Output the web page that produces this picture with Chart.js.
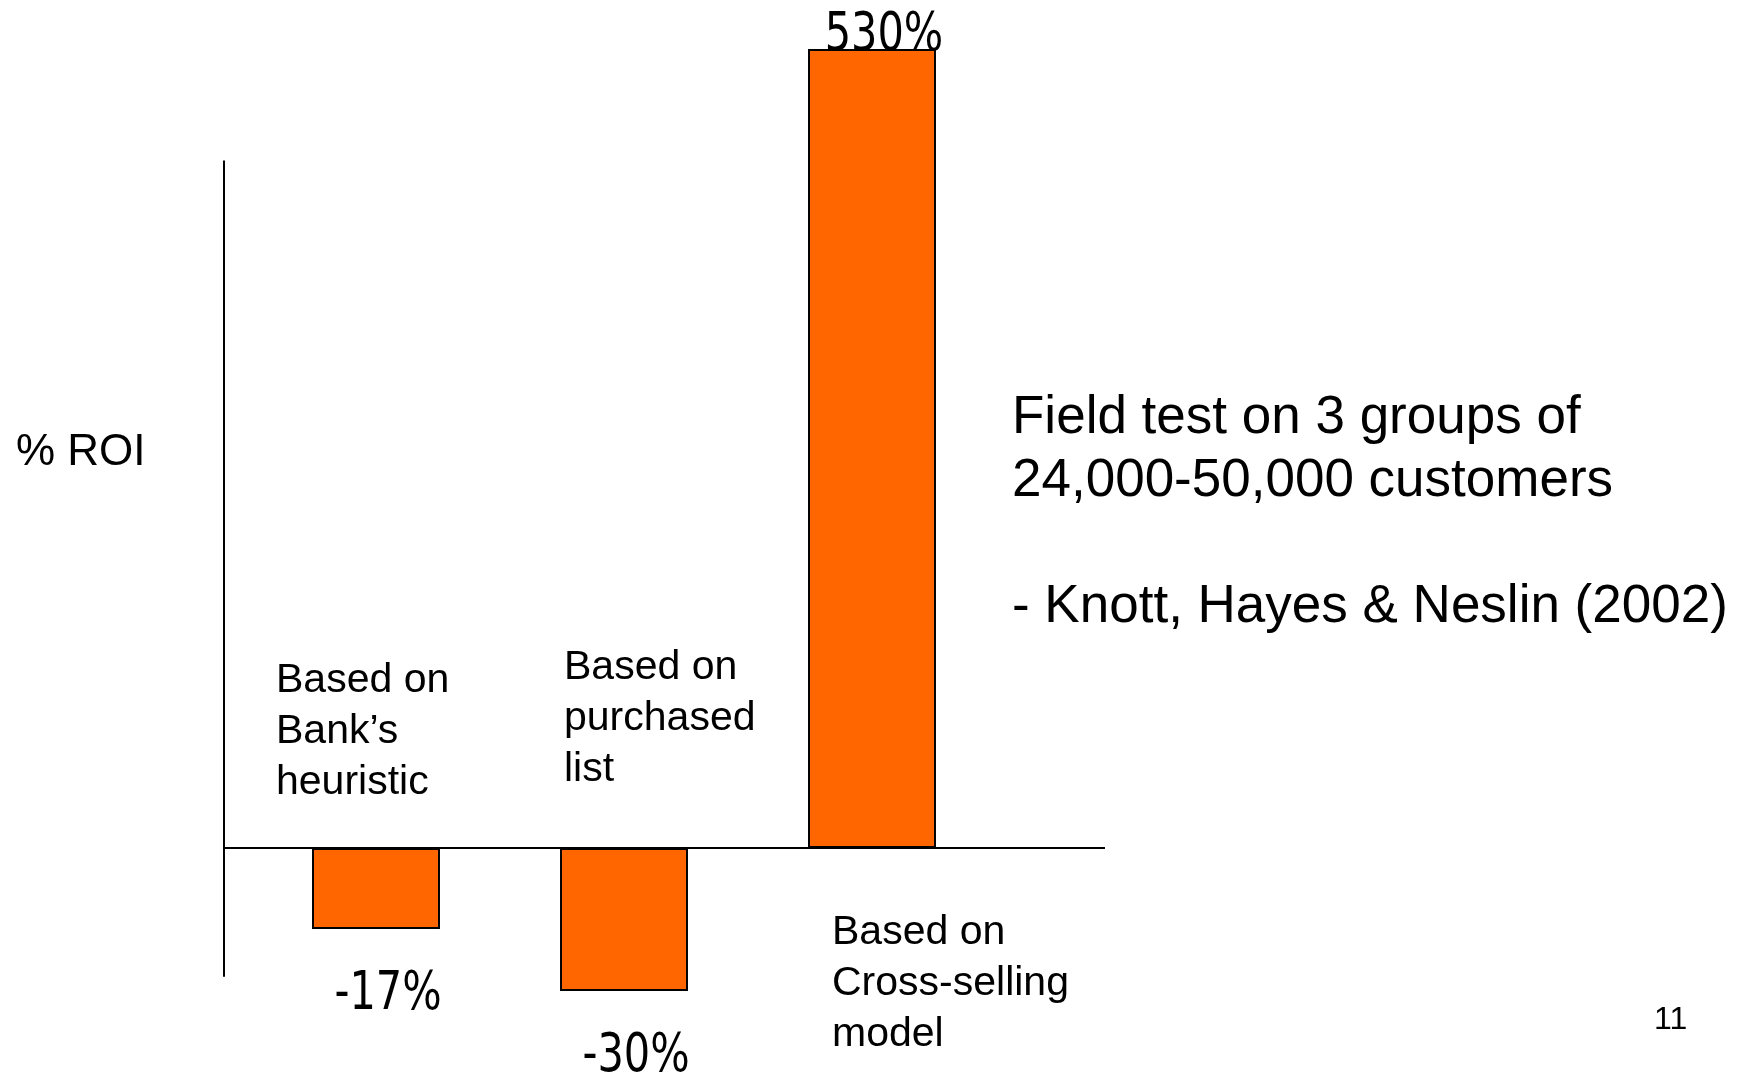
<!DOCTYPE html>
<html>
<head>
<meta charset="utf-8">
<title>% ROI by targeting method</title>
<script src="https://cdn.jsdelivr.net/npm/chart.js@4.4.1/dist/chart.umd.min.js"></script>
<style>
  html, body { margin: 0; padding: 0; background: #fff; }
  #wrap { width: 1750px; height: 1077px; }
</style>
</head>
<body>
<div id="wrap"><canvas id="chart" width="1750" height="1077"></canvas></div>
<script>
// data
const categories = [
  ["Based on", "Bank\u2019s", "heuristic"],
  ["Based on", "purchased", "list"],
  ["Based on", "Cross-selling", "model"]
];
const roiValues = [-17, -30, 530];
const noteLines = ["Field test on 3 groups of", "24,000-50,000 customers", "", "- Knott, Hayes & Neslin (2002)"];
const axisTitle = "% ROI";
const pageNumber = "11";

// losses are tiny next to the 530% gain, so the negative side gets a bigger step
const NEG_STRETCH = 3.16;
const AXIS_TOP = 456;
const AXIS_BOTTOM = -27;

const BODY_FONT = '"Liberation Sans", Arial, sans-serif';
const VALUE_FONT = '"Liberation Sans Narrow", "DejaVu Sans Condensed", sans-serif';
const VALUE_SQUEEZE = 0.87;

class SplitLinearScale extends Chart.LinearScale {
  static id = "splitLinear";
  static defaults = Chart.LinearScale.defaults;

  warp(v) { return v < 0 ? v * NEG_STRETCH : v; }
  unwarp(t) { return t < 0 ? t / NEG_STRETCH : t; }

  getPixelForValue(value) {
    const lo = this.warp(this.min), hi = this.warp(this.max);
    return this.getPixelForDecimal((this.warp(value) - lo) / (hi - lo));
  }
  getValueForPixel(pixel) {
    const lo = this.warp(this.min), hi = this.warp(this.max);
    return this.unwarp(lo + this.getDecimalForPixel(pixel) * (hi - lo));
  }
}
Chart.register(SplitLinearScale);

// label block placement, relative to the bar's left edge and the zero line
const labelPlacement = [
  { dx: -36, dy: -156 },
  { dx: 4, dy: -169 },
  { dx: 24, dy: 96 }
];

const roiDecor = {
  id: "roiDecor",
  afterDraw(chart) {
    const { ctx, chartArea, scales: { y } } = chart;
    const bars = chart.getDatasetMeta(0).data;
    const zeroY = y.getPixelForValue(0);
    const axisX = chartArea.left - 28;

    ctx.save();
    ctx.strokeStyle = "#000";
    ctx.lineWidth = 2;
    ctx.beginPath();
    ctx.moveTo(axisX, y.getPixelForValue(AXIS_TOP));
    ctx.lineTo(axisX, y.getPixelForValue(AXIS_BOTTOM));
    ctx.moveTo(axisX, zeroY);
    ctx.lineTo(chartArea.right + 109, zeroY);
    ctx.stroke();

    ctx.fillStyle = "#000";
    ctx.textBaseline = "alphabetic";

    // category text
    ctx.font = `41px ${BODY_FONT}`;
    ctx.textAlign = "left";
    bars.forEach((bar, i) => {
      const left = bar.x - bar.width / 2 + labelPlacement[i].dx;
      categories[i].forEach((line, j) => {
        ctx.fillText(line, left, zeroY + labelPlacement[i].dy + j * 51);
      });
    });

    // value text at the end of each bar, in a tall narrow face
    ctx.font = `53px ${VALUE_FONT}`;
    ctx.textAlign = "center";
    bars.forEach((bar, i) => {
      const v = roiValues[i];
      const yText = v < 0 ? bar.y + 80 : bar.y + 1;
      ctx.save();
      ctx.translate(bar.x + 12, yText);
      ctx.scale(VALUE_SQUEEZE, 1);
      ctx.fillText(`${v}%`, 0, 0);
      ctx.restore();
    });

    // axis title, note and page number
    ctx.textAlign = "left";
    ctx.font = `44px ${BODY_FONT}`;
    ctx.fillText(axisTitle, 16, 465);

    ctx.font = `53px ${BODY_FONT}`;
    noteLines.forEach((line, j) => ctx.fillText(line, chartArea.right + 16, 433 + j * 63));

    ctx.font = `32px ${BODY_FONT}`;
    ctx.fillText(pageNumber, 1654, 1029);
    ctx.restore();
  }
};

const chartCtx = document.getElementById("chart").getContext("2d");
new Chart(chartCtx, {
  type: "bar",
  data: {
    labels: categories.map(c => c.join(" ")),
    datasets: [{
      data: roiValues,
      backgroundColor: "#ff6600",
      borderColor: "#000",
      borderWidth: 2,
      borderSkipped: false,
      barPercentage: 0.516,
      categoryPercentage: 1,
      clip: false
    }]
  },
  options: {
    responsive: false,
    animation: false,
    layout: { padding: { left: 252, right: 754, top: 49, bottom: 86 } },
    plugins: { legend: { display: false }, tooltip: { enabled: false } },
    scales: {
      x: { display: false },
      y: { type: "splitLinear", display: false, min: -30, max: 530 }
    }
  },
  plugins: [roiDecor]
});
</script>
</body>
</html>
